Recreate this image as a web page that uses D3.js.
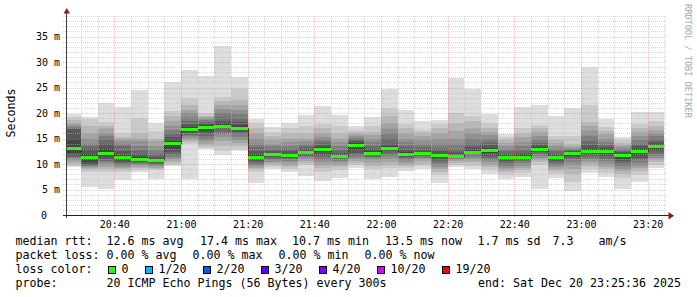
<!DOCTYPE html>
<html><head><meta charset="utf-8">
<script src="https://cdn.jsdelivr.net/npm/d3@7"></script>
<style>
html,body{margin:0;padding:0;background:#fff;}
svg{display:block;}
text{font-family:"DejaVu Sans Mono",monospace;}
</style></head><body>
<svg id="c" width="697" height="297"></svg>
<script>
// ---------- data ----------
const barEnds = ["20:30","20:35","20:40","20:45","20:50","20:55","21:00","21:05","21:10","21:15","21:20","21:25",
  "21:30","21:35","21:40","21:45","21:50","21:55","22:00","22:05","22:10","22:15","22:20","22:25",
  "22:30","22:35","22:40","22:45","22:50","22:55","23:00","23:05","23:10","23:15","23:20","23:25"];
const medians = [13.1,11.2,12.1,11.2,10.9,10.7,14.0,16.7,17.1,17.4,17.0,11.3,
  11.8,11.6,12.2,12.8,11.4,13.6,12.1,13.1,11.8,12.0,11.6,11.4,
  12.3,12.7,11.2,11.2,12.9,11.2,12.0,12.4,12.5,11.6,12.5,13.5];
const lossCounts = [0,0,0,0,0,0,0,0,0,0,0,0,0,0,0,0,0,0,0,0,0,0,0,0,0,0,0,0,0,0,0,0,0,0,0,0];
const pings = [
  [9.5,9.7,10.0,10.4,10.8,11.1,11.3,11.5,12.2,13.0,13.2,14.8,16.8,17.0,17.3,17.6,18.0,18.6,19.3,19.9],
  [5.4,8.4,8.8,9.2,9.5,9.6,9.8,10.0,10.3,11.0,11.3,12.0,13.0,13.5,14.0,15.0,16.0,17.5,18.8,19.3],
  [5.1,8.5,9.0,9.5,10.0,10.3,10.6,11.0,11.5,12.0,12.3,13.0,14.0,14.7,15.5,16.0,17.0,17.5,18.3,21.9],
  [6.9,8.4,8.8,9.2,9.5,9.8,10.1,10.4,10.8,11.1,11.3,11.8,12.5,13.5,14.0,14.5,15.0,15.2,16.0,21.2],
  [8.5,8.9,9.2,9.5,9.8,10.0,10.2,10.4,10.6,10.8,11.0,11.4,12.0,12.8,13.5,14.5,15.0,16.0,19.0,24.5],
  [7.0,8.8,9.0,9.3,9.6,9.8,10.0,10.2,10.4,10.6,10.8,11.0,11.4,12.0,12.7,13.5,14.5,15.0,16.5,18.0],
  [9.6,9.9,10.2,10.6,11.0,11.4,11.8,12.3,13.0,13.8,14.1,14.6,15.3,16.0,16.7,17.5,18.5,19.5,20.3,26.0],
  [7.0,14.0,14.4,14.8,15.1,15.4,15.7,16.0,16.3,16.6,16.8,17.2,17.8,18.5,19.3,20.0,20.5,21.5,23.0,28.4],
  [12.9,13.2,13.6,14.0,14.5,15.0,15.5,16.0,16.5,17.0,17.2,17.6,18.0,18.3,18.6,19.0,19.3,19.5,20.0,27.3],
  [11.8,12.5,13.5,14.5,15.3,15.8,16.3,16.8,17.2,17.3,17.5,18.0,18.5,19.3,20.0,20.7,21.5,22.3,23.2,33.1],
  [12.5,13.0,13.6,14.2,14.8,15.3,15.8,16.2,16.6,16.9,17.1,17.6,18.3,19.0,19.8,20.5,21.5,22.5,24.7,27.0],
  [6.2,8.5,9.0,9.3,9.6,9.9,10.2,10.5,10.9,11.2,11.4,11.8,12.5,13.3,14.0,15.0,16.0,17.0,18.0,18.8],
  [9.0,9.4,9.8,10.1,10.4,10.7,11.0,11.3,11.6,11.8,11.9,12.2,12.6,13.0,13.5,14.0,14.7,15.4,16.3,17.3],
  [8.5,9.1,9.5,9.9,10.3,10.6,10.9,11.2,11.4,11.6,11.7,12.0,12.5,13.0,13.6,14.3,15.0,16.0,17.0,18.0],
  [7.7,9.8,10.2,10.6,11.0,11.3,11.6,11.8,12.0,12.1,12.3,12.6,13.0,13.5,14.0,14.6,15.0,16.0,17.5,19.6],
  [6.7,8.5,9.2,9.8,10.3,10.8,11.3,11.8,12.3,12.7,12.9,13.3,13.8,14.3,14.7,15.3,16.0,17.0,17.8,21.4],
  [7.3,8.8,9.4,9.9,10.3,10.6,10.9,11.1,11.2,11.3,11.5,11.8,12.2,12.8,13.5,14.3,15.0,16.0,17.5,19.6],
  [9.2,9.8,10.2,10.6,11.0,11.3,11.7,12.2,12.8,13.5,13.7,14.1,14.5,14.8,15.1,15.4,15.8,16.2,16.7,17.5],
  [7.0,9.0,9.6,10.2,10.7,11.1,11.4,11.7,11.9,12.0,12.2,12.5,13.0,13.6,14.3,15.0,15.7,16.3,17.5,19.2],
  [7.5,9.2,9.8,10.4,11.0,11.5,12.0,12.5,12.8,13.0,13.2,13.5,14.0,15.0,16.0,17.0,18.0,19.5,21.0,24.7],
  [8.6,9.2,9.6,10.0,10.4,10.8,11.1,11.4,11.6,11.8,11.9,12.3,12.8,13.5,14.3,15.0,16.0,17.0,17.8,20.6],
  [9.0,9.6,10.0,10.5,10.9,11.2,11.5,11.7,11.9,12.0,12.1,12.4,12.8,13.3,14.0,14.7,15.4,16.2,16.7,18.4],
  [6.3,7.8,8.5,9.0,9.5,10.0,10.4,10.8,11.2,11.5,11.7,12.0,12.5,13.2,14.0,15.0,16.0,17.0,17.8,18.6],
  [9.5,9.9,10.2,10.5,10.8,11.0,11.2,11.3,11.4,11.4,11.5,11.8,12.3,13.0,14.0,15.0,16.5,18.0,20.0,26.9],
  [9.0,9.6,10.1,10.6,11.0,11.4,11.7,12.0,12.1,12.2,12.4,12.8,13.3,14.0,15.0,16.0,17.0,18.5,19.5,24.7],
  [8.1,8.8,9.4,9.9,10.3,10.7,11.1,11.6,12.1,12.6,12.8,13.2,13.8,14.4,15.0,15.6,16.2,17.0,18.0,19.9],
  [7.0,7.8,8.4,8.9,9.3,9.7,10.1,10.5,10.9,11.1,11.3,11.6,12.0,12.5,13.0,13.5,14.2,14.8,15.3,15.9],
  [7.4,8.2,8.8,9.3,9.7,10.1,10.5,10.8,11.0,11.1,11.3,11.7,12.2,12.8,13.5,14.3,15.2,16.0,17.0,21.1],
  [5.1,9.8,10.3,10.8,11.2,11.6,12.0,12.3,12.6,12.8,13.0,13.3,13.7,14.2,14.8,15.5,16.3,17.0,17.7,21.6],
  [7.2,8.0,8.6,9.0,9.4,9.8,10.2,10.5,10.8,11.1,11.3,11.6,12.0,12.5,13.0,13.5,14.1,14.7,15.5,19.4],
  [4.8,6.5,8.0,9.0,9.8,10.4,10.9,11.3,11.6,11.9,12.1,12.3,12.5,12.7,13.0,13.2,13.5,14.0,15.5,20.9],
  [8.2,9.0,9.6,10.1,10.6,11.0,11.4,11.8,12.1,12.3,12.5,13.0,13.8,14.5,15.5,16.5,17.5,18.3,21.5,29.1],
  [7.5,8.3,9.0,9.5,10.0,10.5,11.0,11.5,12.0,12.4,12.6,12.9,13.3,13.8,14.4,15.0,15.8,16.5,17.3,18.8],
  [5.1,7.2,8.0,8.6,9.1,9.6,10.1,10.6,11.0,11.4,11.7,12.0,12.3,12.6,13.0,13.4,13.8,14.2,14.7,15.2],
  [6.5,7.8,8.6,9.2,9.7,10.2,10.7,11.2,11.7,12.3,12.6,13.0,13.5,14.0,14.7,15.4,16.2,17.0,17.8,20.1],
  [9.2,9.8,10.3,10.8,11.2,11.6,12.0,12.5,13.0,13.3,13.6,13.9,14.3,14.8,15.4,16.0,16.7,17.4,18.5,20.1]
];
const xTickTimes = ["20:40","21:00","21:20","21:40","22:00","22:20","22:40","23:00","23:20"];
const xTickLabels = ["20:40","21:00","21:20","21:40","22:00","22:20","22:40","23:00","23:20"];
const yTickValues = [0,5,10,15,20,25,30,35];
const yTickLabels = ["0","5 m","10 m","15 m","20 m","25 m","30 m","35 m"];
const lossLabels = ["0","1/20","2/20","3/20","4/20","10/20","19/20"];
const lossColors = ["#26ff00","#00b8ff","#0059ff","#5e00ff","#7e00ff","#dd00ff","#ff0000"];
const rowMedian = ["median rtt:","12.6 ms avg","17.4 ms max","10.7 ms min","13.5 ms now","1.7 ms sd","7.3","am/s"];
const rowLoss = ["packet loss:","0.00 % avg","0.00 % max","0.00 % min","0.00 % now"];
const rowProbe = ["probe:","20 ICMP Echo Pings (56 Bytes) every 300s"];
const endText = "end: Sat Dec 20 23:25:36 2025";
const yTitle = "Seconds";
const watermark = "RRDTOOL / TOBI OETIKER";
const windowStart = "20:25:48", windowEnd = "23:25:48";

// ---------- helpers ----------
const sec = s => { const p = s.split(":").map(Number); return p[0]*3600 + p[1]*60 + (p[2]||0); };
const svg = d3.select("#c");
const L = 67, R = 667, B = 215;
const x = d3.scaleLinear().domain([sec(windowStart), sec(windowEnd)]).range([L, R]).clamp(true);
const y = d3.scaleLinear().domain([0, 40]).range([B, B - 204]);
const step = 300;

// ---------- smoke ----------
const gSmoke = svg.append("g").attr("shape-rendering","crispEdges");
const half = 10;
barEnds.forEach((t, k) => {
  const te = sec(t);
  const x0 = Math.round(x(te - step)), x1 = Math.round(x(te));
  const p = pings[k];
  for (let i = 1; i <= half; i++) {
    const c = Math.floor(190/half*(half-i)) + 50;
    const hex = c.toString(16).padStart(2,"0");
    const yt = Math.round(y(p[20-i])), yb = Math.round(y(p[i-1]));
    gSmoke.append("rect").attr("x", x0).attr("width", x1 - x0)
      .attr("y", yt).attr("height", Math.max(1, yb - yt))
      .attr("fill", "#" + hex + hex + hex);
  }
});

// ---------- median ----------
const medPts = [];
barEnds.forEach((t, k) => {
  const te = sec(t);
  medPts.push([x(te - step), medians[k]], [x(te), medians[k]]);
});
svg.append("path").datum(medPts)
  .attr("d", d3.line().x(d => Math.round(d[0]) + 0.5).y(d => Math.round(y(d[1])) + 0.5))
  .attr("fill","none").attr("stroke","#202020").attr("stroke-width",1);
const gMed = svg.append("g").attr("shape-rendering","crispEdges");
barEnds.forEach((t, k) => {
  const te = sec(t);
  const x0 = Math.round(x(te - step)), x1 = Math.round(x(te));
  const ym = y(medians[k]);
  gMed.append("rect").attr("x", x0).attr("width", x1 - x0)
    .attr("y", Math.round(ym - 1.5)).attr("height", 3)
    .attr("fill", lossColors[lossCounts[k]]);
});

// ---------- grid (drawn over graph, like rrdtool) ----------
const gGrid = svg.append("g").attr("shape-rendering","crispEdges");
const minorCol = "rgba(186,186,186,0.55)", majorCol = "rgba(255,95,95,0.42)";
d3.range(1, 40).forEach(v => {
  const yy = Math.round(y(v)) + 0.5;
  gGrid.append("line").attr("x1", 63).attr("x2", R).attr("y1", yy).attr("y2", yy)
    .attr("stroke", v % 5 === 0 ? majorCol : minorCol).attr("stroke-dasharray","1,1");
});
const majorSet = new Set(xTickTimes.map(sec));
for (let t = Math.ceil(sec(windowStart)/step)*step; t < sec(windowEnd); t += step) {
  const xx = Math.round(x(t)) + 0.5;
  gGrid.append("line").attr("x1", xx).attr("x2", xx).attr("y1", Math.round(y(39))).attr("y2", B + 3)
    .attr("stroke", majorSet.has(t) ? majorCol : minorCol).attr("stroke-dasharray","1,1");
}

// ---------- axes ----------
const xAxis = svg.append("g").attr("transform", `translate(0,${B})`)
  .call(d3.axisBottom(x).tickValues(xTickTimes.map(sec)).tickFormat((d,i) => xTickLabels[i]).tickSize(0).tickPadding(6));
xAxis.select(".domain").remove();
xAxis.selectAll("text").attr("font-family","DejaVu Sans Mono").attr("font-size","10px").attr("fill","#000");

const yAxis = svg.append("g").attr("transform", `translate(66.5,0)`)
  .call(d3.axisLeft(y).tickValues(yTickValues).tickFormat((d,i) => yTickLabels[i]).tickSize(0).tickPadding(6.5));
yAxis.select(".domain").remove();
yAxis.selectAll("text").attr("font-family","DejaVu Sans Mono").attr("font-size","10px").attr("fill","#000")
  .attr("dx", d => d === 0 ? -13 : 0);

// axis lines + arrows
svg.append("line").attr("x1",66.5).attr("x2",66.5).attr("y1",B+3).attr("y2",12)
  .attr("stroke","#404040").attr("stroke-width",1);
svg.append("line").attr("x1",63).attr("x2",669).attr("y1",B+0.5).attr("y2",B+0.5)
  .attr("stroke","#202020").attr("stroke-width",1);
svg.append("path").attr("d","M63.5,13.5L70,13.5L66.75,8Z").attr("fill","#9a1515");
svg.append("path").attr("d","M668.5,212L668.5,219.5L674,215.75Z").attr("fill","#9a1515");

// titles
svg.append("text").attr("transform","translate(15,113) rotate(-90)").attr("text-anchor","middle")
  .attr("font-size","11.6px").attr("fill","#000").text(yTitle);
svg.append("text").attr("transform","translate(685,4) rotate(90)").attr("text-anchor","start")
  .attr("font-size","8.6px").attr("fill","#a8a8a8").text(watermark);

// ---------- legend ----------
const fs = "11.63px";
const g = svg.append("g").attr("font-size", fs).attr("fill","#000").style("white-space","pre");
const row1X = [15.5, 106.5, 200, 292, 385, 477.5, 552.5, 598.5];
rowMedian.forEach((s,i) => g.append("text").attr("x", row1X[i]).attr("y", 245).text(s));
const row2X = [15.5, 106.5, 192.5, 278.5, 364.5];
rowLoss.forEach((s,i) => g.append("text").attr("x", row2X[i]).attr("y", 259).text(s));
g.append("text").attr("x", 15.5).attr("y", 273).text("loss color:");
let bx = 108.5;
lossLabels.forEach((s,i) => {
  g.append("rect").attr("x", bx).attr("y", 266.5).attr("width", 7).attr("height", 7)
    .attr("fill", lossColors[i]).attr("stroke", "#000").attr("stroke-width", 1);
  g.append("text").attr("x", bx + 13).attr("y", 273).text(s);
  bx += 30 + 7 * s.length;
});
const row4X = [15.5, 106.5];
rowProbe.forEach((s,i) => g.append("text").attr("x", row4X[i]).attr("y", 287).text(s));
g.append("text").attr("x", 681).attr("y", 287).attr("text-anchor","end").text(endText);
</script>
</body></html>
